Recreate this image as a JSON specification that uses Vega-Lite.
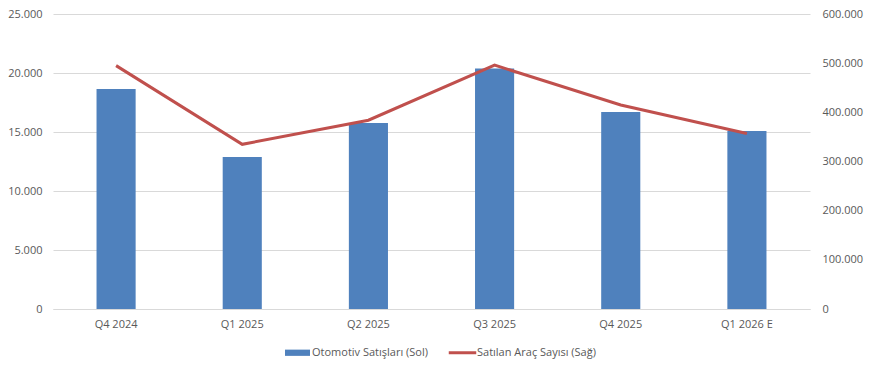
{
  "$schema": "https://vega.github.io/schema/vega-lite/v6.json",
  "autosize": {"type": "none"},
  "width": 757,
  "height": 295,
  "padding": {"left": 53, "top": 14, "right": 60, "bottom": 62},
  "background": "white",
  "config": {
    "font": "Open Sans",
    "view": {"stroke": null},
    "axis": {"labelFont": "Open Sans", "labelFontSize": 11, "labelColor": "#595959", "ticks": false, "title": null}
  },
  "data": {
    "values": [
      {"quarter": "Q4 2024", "otomotiv": 18650, "arac": 495000},
      {"quarter": "Q1 2025", "otomotiv": 12880, "arac": 335000},
      {"quarter": "Q2 2025", "otomotiv": 15760, "arac": 384000},
      {"quarter": "Q3 2025", "otomotiv": 20380, "arac": 496000},
      {"quarter": "Q4 2025", "otomotiv": 16690, "arac": 415000},
      {"quarter": "Q1 2026 E", "otomotiv": 15080, "arac": 357000}
    ]
  },
  "encoding": {
    "x": {
      "field": "quarter", "type": "nominal", "sort": null,
      "scale": {"paddingInner": 0.69, "paddingOuter": 0.345},
      "axis": {"labelAngle": 0, "labelPadding": 9, "domainColor": "#d9d9d9", "domainWidth": 1, "grid": false}
    }
  },
  "layer": [
    {
      "mark": {"type": "bar", "color": "#4f81bd"},
      "encoding": {
        "y": {
          "field": "otomotiv", "type": "quantitative",
          "scale": {"domain": [0, 25000], "nice": false},
          "axis": {
            "values": [0, 5000, 10000, 15000, 20000, 25000],
            "labelExpr": "replace(format(datum.value, ','), ',', '.')",
            "labelPadding": 11, "domain": false, "grid": true, "gridColor": "#d9d9d9", "gridWidth": 1
          }
        },
        "color": {
          "datum": "Otomotiv Satışları (Sol)",
          "type": "nominal",
          "scale": {"domain": ["Otomotiv Satışları (Sol)", "Satılan Araç Sayısı (Sağ)"], "range": ["#4f81bd", "#c0504d"]},
          "legend": {
            "title": null,
            "orient": "none",
            "legendX": 232,
            "legendY": 326,
            "direction": "horizontal",
            "labelFont": "Open Sans",
            "labelFontSize": 11,
            "labelColor": "#595959",
            "labelOffset": 2,
            "columnPadding": 20,
            "symbolSize": 625,
            "symbolStrokeWidth": 0,
            "symbolOpacity": 1,
            "encode": {
              "symbols": {
                "update": {
                  "shape": {"signal": "datum.value === 'Otomotiv Satışları (Sol)' ? 'M-1,-0.25H1V0.25H-1Z' : 'M-1.1,-0.12H1.1V0.12H-1.1Z'"},
                  "fill": {"signal": "datum.value === 'Otomotiv Satışları (Sol)' ? '#4f81bd' : '#c0504d'"},
                  "strokeWidth": {"value": 0},
                  "opacity": {"value": 1}
                }
              }
            }
          }
        }
      }
    },
    {
      "mark": {"type": "line", "color": "#c0504d", "strokeWidth": 3},
      "encoding": {
        "y": {
          "field": "arac", "type": "quantitative",
          "scale": {"domain": [0, 600000], "nice": false},
          "axis": {
            "orient": "right",
            "values": [0, 100000, 200000, 300000, 400000, 500000, 600000],
            "labelExpr": "replace(format(datum.value, ','), ',', '.')",
            "labelPadding": 12, "domain": false, "grid": false
          }
        },
        "color": {"datum": "Satılan Araç Sayısı (Sağ)", "type": "nominal"}
      }
    }
  ],
  "resolve": {"scale": {"y": "independent"}}
}
